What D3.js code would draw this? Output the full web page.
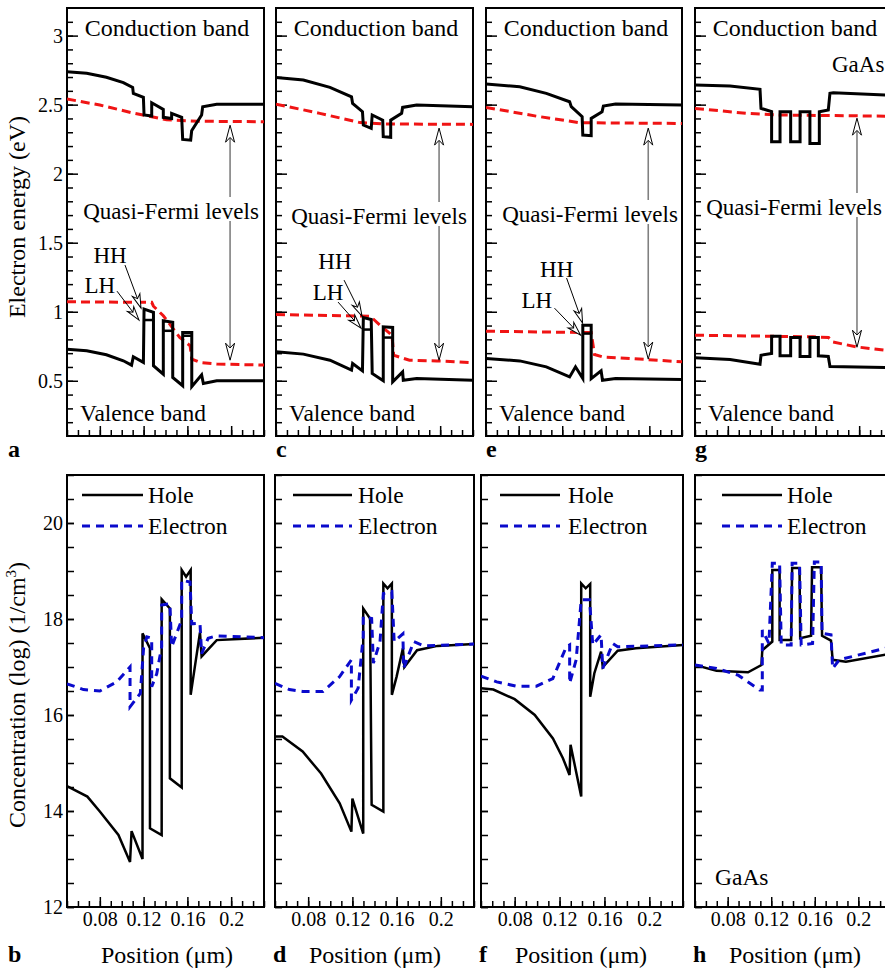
<!DOCTYPE html>
<html>
<head>
<meta charset="utf-8">
<script src="https://cdn.jsdelivr.net/npm/d3@7"></script>
<style>
  body { margin: 0; background: #fff; }
  svg, svg text { font-family: "Liberation Serif", "DejaVu Serif", "Times New Roman", Times, serif; fill: #000; }
</style>
</head>
<body>
<div id="chart"></div>
<script>
// ---- data (position in um, energy in eV, concentration in log10 1/cm3) ----
const POS_MAJOR = [0.08, 0.12, 0.16, 0.2];
const POS_MINOR = d3.range(5, 24).map(i => i / 100);
const E_MAJOR = [0.5, 1, 1.5, 2, 2.5, 3];
const E_MINOR = d3.range(2, 32).map(i => i / 10);
const C_MAJOR = [12, 14, 16, 18, 20];
const C_MINOR = d3.range(24, 43).map(i => i / 2);

// panel a
const cbA = [[0.05,2.739],[0.068,2.727],[0.086,2.698],[0.1015,2.659],[0.110,2.625],[0.1106,2.582],[0.1198,2.553],[0.1204,2.425],[0.1274,2.418],[0.1274,2.514],[0.138,2.466],[0.138,2.408],[0.1456,2.40],[0.1456,2.437],[0.1548,2.408],[0.1557,2.248],[0.163,2.243],[0.1639,2.311],[0.173,2.425],[0.174,2.485],[0.1868,2.502],[0.23,2.502]];
const vbA = [[0.05,0.729],[0.068,0.717],[0.086,0.688],[0.1015,0.645],[0.109,0.613],[0.1106,0.674],[0.1198,0.633],[0.1204,1.019],[0.129,0.995],[0.129,0.609],[0.138,0.548],[0.138,0.935],[0.1466,0.923],[0.1466,0.524],[0.1557,0.464],[0.1557,0.85],[0.164,0.85],[0.164,0.457],[0.173,0.543],[0.1746,0.48],[0.1868,0.5],[0.23,0.5]];
const lhA = [[0.1204,0.129,0.94],[0.138,0.1466,0.862],[0.1557,0.164,0.826]];
const efA = [[0.05,2.541],[0.08,2.497],[0.11,2.44],[0.141,2.39],[0.17,2.38],[0.23,2.376]];
const hfA = [[0.05,1.072],[0.1274,1.068],[0.129,1.04],[0.138,0.971],[0.153,0.814],[0.1625,0.754],[0.164,0.657],[0.1716,0.633],[0.1868,0.621],[0.23,0.614]];
// panel c
const cbC = [[0.05,2.697],[0.075,2.678],[0.0993,2.625],[0.119,2.557],[0.12,2.509],[0.129,2.449],[0.1298,2.352],[0.137,2.328],[0.1379,2.425],[0.1475,2.388],[0.148,2.268],[0.1548,2.263],[0.1548,2.388],[0.1648,2.437],[0.1657,2.48],[0.1785,2.497],[0.23,2.485]];
const vbC = [[0.05,0.71],[0.075,0.693],[0.0993,0.649],[0.119,0.577],[0.12,0.625],[0.129,0.572],[0.1298,0.958],[0.137,0.944],[0.1379,0.553],[0.148,0.5],[0.148,0.891],[0.1566,0.886],[0.1566,0.492],[0.1657,0.564],[0.1663,0.504],[0.1785,0.516],[0.23,0.504]];
const lhC = [[0.1298,0.137,0.871],[0.148,0.1566,0.813]];
const efC = [[0.05,2.504],[0.09,2.437],[0.1268,2.37],[0.148,2.36],[0.23,2.357]];
const hfC = [[0.05,0.98],[0.136,0.968],[0.145,0.903],[0.156,0.83],[0.1575,0.685],[0.172,0.649],[0.197,0.644],[0.23,0.63]];
// panel e
const cbE = [[0.05,2.649],[0.081,2.63],[0.1054,2.582],[0.1268,2.521],[0.1283,2.485],[0.1383,2.413],[0.1389,2.28],[0.1466,2.275],[0.1466,2.4],[0.1566,2.449],[0.1578,2.49],[0.169,2.504],[0.23,2.497]];
const vbE = [[0.05,0.661],[0.081,0.644],[0.1054,0.601],[0.1268,0.528],[0.1322,0.601],[0.1389,0.516],[0.1389,0.902],[0.1466,0.902],[0.1466,0.516],[0.1557,0.572],[0.157,0.504],[0.169,0.516],[0.23,0.509]];
const lhE = [[0.1389,0.1466,0.842]];
const efE = [[0.05,2.48],[0.096,2.417],[0.136,2.369],[0.23,2.364]];
const hfE = [[0.05,0.859],[0.1466,0.849],[0.1496,0.69],[0.157,0.673],[0.197,0.654],[0.23,0.637]];
// panel g
const cbG = [[0.05,2.642],[0.082,2.635],[0.1094,2.611],[0.1103,2.473],[0.12,2.449],[0.12,2.231],[0.1277,2.231],[0.1277,2.449],[0.1374,2.449],[0.1374,2.231],[0.146,2.231],[0.146,2.449],[0.155,2.449],[0.155,2.219],[0.1636,2.219],[0.1636,2.449],[0.1718,2.461],[0.1733,2.582],[0.1764,2.586],[0.23,2.568]];
const vbG = [[0.05,0.666],[0.082,0.654],[0.1094,0.62],[0.1103,0.685],[0.12,0.697],[0.12,0.823],[0.1277,0.823],[0.1277,0.681],[0.1374,0.681],[0.1374,0.813],[0.146,0.813],[0.146,0.676],[0.155,0.676],[0.155,0.813],[0.1627,0.813],[0.1627,0.681],[0.1718,0.676],[0.1733,0.604],[0.23,0.595]];
const lhG = [];
const efG = [[0.05,2.473],[0.097,2.437],[0.1277,2.425],[0.23,2.416]];
const hfG = [[0.05,0.83],[0.158,0.818],[0.172,0.813],[0.176,0.781],[0.198,0.745],[0.23,0.715]];

// HH / LH annotations: label, text x, text y, arrow start x, y, tip x, y
const annoA = [["HH",0.0893,1.352,0.103,1.338,0.1176,1.026],["LH",0.080,1.135,0.0957,1.149,0.1158,0.939]];
const annoC = [["HH",0.1039,1.309,0.1122,1.229,0.1286,0.968],["LH",0.0975,1.084,0.1067,1.07,0.1277,0.881]];
const annoE = [["HH",0.1149,1.251,0.124,1.244,0.1387,0.919],["LH",0.0966,1.026,0.1129,1.026,0.1369,0.83]];
// quasi-Fermi arrow: x, top tip, bottom tip
const qflArrow = [[0.199,2.351,0.649],[0.199,2.33,0.649],[0.199,2.33,0.657],[0.198,2.402,0.743]];

// panel b
const hoB = [[0.05,14.52],[0.0686,14.3],[0.08,13.99],[0.097,13.5],[0.1076,12.94],[0.109,13.58],[0.119,13.0],[0.119,17.7],[0.1258,17.39],[0.1258,13.64],[0.1365,13.5],[0.1365,18.41],[0.144,18.22],[0.144,14.68],[0.1548,14.49],[0.1548,19.02],[0.1588,18.88],[0.163,19.02],[0.163,16.42],[0.1715,17.72],[0.173,17.22],[0.1868,17.56],[0.23,17.61]];
const elB = [[0.05,16.65],[0.065,16.53],[0.08,16.5],[0.0954,16.69],[0.1076,17.0],[0.1076,16.17],[0.117,16.45],[0.12,17.4],[0.123,17.63],[0.1274,17.6],[0.1274,16.59],[0.132,16.86],[0.1365,17.42],[0.1365,18.29],[0.144,18.32],[0.1456,17.42],[0.1548,17.98],[0.1548,18.81],[0.1624,18.77],[0.164,17.9],[0.1715,17.91],[0.173,17.28],[0.179,17.6],[0.1868,17.65],[0.23,17.61]];
// panel d
const hoD = [[0.05,15.55],[0.0567,15.55],[0.075,15.24],[0.0917,14.78],[0.1085,14.16],[0.1191,13.57],[0.12,14.26],[0.1298,13.53],[0.1298,18.22],[0.136,18.01],[0.1374,14.13],[0.148,13.99],[0.148,18.74],[0.1518,18.64],[0.1557,18.74],[0.1557,16.42],[0.16,16.8],[0.1657,17.39],[0.167,17.0],[0.1785,17.35],[0.197,17.44],[0.23,17.48]];
const elD = [[0.05,16.66],[0.063,16.53],[0.075,16.49],[0.0933,16.49],[0.1085,16.8],[0.1191,17.15],[0.1191,16.31],[0.1252,16.56],[0.1298,17.63],[0.1298,18.05],[0.1374,18.01],[0.139,17.08],[0.145,17.53],[0.148,18.53],[0.1557,18.57],[0.1578,17.53],[0.1657,17.69],[0.1663,16.97],[0.1755,17.53],[0.1846,17.44],[0.23,17.48]];
// panel f
const hoF = [[0.05,16.56],[0.061,16.53],[0.08,16.33],[0.0979,16.0],[0.1141,15.51],[0.123,15.1],[0.1289,14.75],[0.1298,15.38],[0.1393,14.3],[0.1393,18.74],[0.1433,18.64],[0.1473,18.73],[0.1473,16.38],[0.151,16.87],[0.157,17.32],[0.1585,17.0],[0.1718,17.34],[0.188,17.39],[0.23,17.46]];
const elF = [[0.05,16.81],[0.064,16.69],[0.0816,16.6],[0.0994,16.6],[0.114,16.76],[0.126,17.42],[0.129,17.46],[0.129,16.66],[0.1348,17.15],[0.1393,18.4],[0.1467,18.4],[0.1496,17.46],[0.157,17.67],[0.1585,16.97],[0.1673,17.49],[0.1718,17.42],[0.23,17.46]];
// panel h
const hoH = [[0.05,17.04],[0.0698,16.92],[0.0987,16.89],[0.111,17.04],[0.1118,17.35],[0.121,17.53],[0.121,19.02],[0.1277,19.02],[0.1277,17.56],[0.1383,17.56],[0.1392,19.06],[0.146,19.06],[0.1466,17.6],[0.1566,17.65],[0.1575,19.08],[0.1658,19.08],[0.1667,17.65],[0.1749,17.55],[0.1764,17.15],[0.1886,17.11],[0.23,17.28]];
const elH = [[0.05,17.04],[0.0698,16.97],[0.0896,16.83],[0.1094,16.52],[0.1118,16.52],[0.1118,17.77],[0.1179,17.49],[0.121,19.16],[0.1277,19.16],[0.1292,17.46],[0.1383,17.46],[0.1392,19.16],[0.146,19.16],[0.1475,17.46],[0.158,17.49],[0.1596,19.19],[0.1658,19.19],[0.1667,17.7],[0.1749,17.67],[0.1764,16.97],[0.1825,17.15],[0.23,17.42]];

// ---- layout ----
const W = 885, H = 968;
const FONT = "'Liberation Serif', 'DejaVu Serif', 'Times New Roman', serif";
const TOP_Y = [8, 436], BOT_Y = [475, 907];
const TOP_X = [[67,264],[276,473],[486,682],[695,892]];
const BOT_X = [[67,264],[275,474],[481,683],[695,891]];
const RED = "#f01414", BLUE = "#0a0acc";

const svg = d3.select("#chart").append("svg")
  .attr("width", W).attr("height", H)
  .attr("font-family", FONT);

const yE = d3.scaleLinear().domain([0.1, 3.2]).range([TOP_Y[1], TOP_Y[0]]);
const yC = d3.scaleLinear().domain([12, 21]).range([BOT_Y[1], BOT_Y[0]]);

let clipId = 0;
// frame, clip and ticks for one panel
function makePanel(xr, yr, yScale, yMinor, yMajor, yMinLen, yMajLen, labelY, labelX) {
  const x = d3.scaleLinear().domain([0.05, 0.23]).range(xr);
  const g = svg.append("g");
  const id = "clip" + (clipId++);
  g.append("clipPath").attr("id", id).append("rect")
    .attr("x", xr[0]).attr("y", yr[0]).attr("width", xr[1] - xr[0]).attr("height", yr[1] - yr[0]);

  // y ticks (inward)
  g.append("g").attr("transform", `translate(${xr[0]},0)`)
    .call(d3.axisLeft(yScale).tickValues(yMinor).tickSize(-yMinLen).tickFormat(""))
    .call(s => s.select(".domain").remove());
  g.append("g").attr("transform", `translate(${xr[0]},0)`)
    .call(d3.axisLeft(yScale).tickValues(yMajor).tickSize(-yMajLen).tickPadding(4)
      .tickFormat(labelY ? d3.format("") : ""))
    .call(s => s.select(".domain").remove());
  // x ticks (inward)
  g.append("g").attr("transform", `translate(0,${yr[1]})`)
    .call(d3.axisBottom(x).tickValues(POS_MINOR).tickSize(-6).tickFormat(""))
    .call(s => s.select(".domain").remove());
  g.append("g").attr("transform", `translate(0,${yr[1]})`)
    .call(d3.axisBottom(x).tickValues(POS_MAJOR).tickSize(-10).tickPadding(5)
      .tickFormat(labelX ? d3.format("") : ""))
    .call(s => s.select(".domain").remove());
  g.selectAll("g").attr("font-family", FONT).attr("font-size", 20);
  g.selectAll(".tick text").attr("fill", "#000");
  g.selectAll(".tick line").attr("stroke", "#000").attr("stroke-width", 1.5);

  g.append("rect")
    .attr("x", xr[0]).attr("y", yr[0]).attr("width", xr[1] - xr[0]).attr("height", yr[1] - yr[0])
    .attr("fill", "none").attr("stroke", "#000").attr("stroke-width", 2);

  const plot = g.append("g").attr("clip-path", `url(#${id})`);
  return { g, plot, x };
}

function drawLine(plot, x, y, data, color, width, dash) {
  plot.append("path").datum(data)
    .attr("d", d3.line().x(d => x(d[0])).y(d => y(d[1])))
    .attr("fill", "none").attr("stroke", color).attr("stroke-width", width)
    .attr("stroke-linejoin", "miter").attr("stroke-dasharray", dash || null);
}

function openHead(g, px, py, ang, len, wid) {
  const pts = [[0, 0], [-len, -wid / 2], [-len * 0.72, 0], [-len, wid / 2]];
  g.append("path").attr("d", "M" + pts.join("L") + "Z")
    .attr("transform", `translate(${px},${py}) rotate(${ang * 180 / Math.PI})`)
    .attr("fill", "#fff").attr("stroke", "#000").attr("stroke-width", 1);
}

function addText(g, str, x, y, size, anchor, weight) {
  return g.append("text").attr("x", x).attr("y", y).attr("font-size", size)
    .attr("font-family", FONT)
    .attr("text-anchor", anchor || "start").attr("font-weight", weight || "normal").text(str);
}

// ---- top row: band diagrams ----
const cbs = [cbA, cbC, cbE, cbG], vbs = [vbA, vbC, vbE, vbG], lhs = [lhA, lhC, lhE, lhG];
const efs = [efA, efC, efE, efG], hfs = [hfA, hfC, hfE, hfG], annos = [annoA, annoC, annoE, []];
const TOP_LETTERS = ["a", "c", "e", "g"], BOT_LETTERS = ["b", "d", "f", "h"];
const QFL_BASE = [219, 224, 222, 215];
const QFL_CX = [104, 103, 104, 99];

TOP_X.forEach((xr, i) => {
  const { g, plot, x } = makePanel(xr, TOP_Y, yE, E_MINOR, E_MAJOR, 6, 11, i === 0, false);
  drawLine(plot, x, yE, efs[i], RED, 3, "9,5");
  drawLine(plot, x, yE, hfs[i], RED, 3, "9,5");
  drawLine(plot, x, yE, cbs[i], "#000", 3);
  drawLine(plot, x, yE, vbs[i], "#000", 3);
  lhs[i].forEach(s => {
    plot.append("line").attr("x1", x(s[0])).attr("x2", x(s[1]))
      .attr("y1", yE(s[2])).attr("y2", yE(s[2]))
      .attr("stroke", "#000").attr("stroke-width", 2.5);
  });

  // quasi-Fermi arrow
  const qa = qflArrow[i], ax = x(qa[0]), t1 = yE(qa[1]), t2 = yE(qa[2]);
  const base = QFL_BASE[i];
  plot.append("line").attr("x1", ax).attr("x2", ax).attr("y1", t1 + 12).attr("y2", base - 22)
    .attr("stroke", "#808080").attr("stroke-width", 1.6);
  plot.append("line").attr("x1", ax).attr("x2", ax).attr("y1", base + 2).attr("y2", t2 - 12)
    .attr("stroke", "#808080").attr("stroke-width", 1.6);
  openHead(plot, ax, t1, -Math.PI / 2, 17, 9);
  openHead(plot, ax, t2, Math.PI / 2, 17, 9);

  const tg = plot.append("g");
  addText(tg, "Conduction band", xr[0] + 100, 36, 24, "middle");
  addText(tg, "Quasi-Fermi levels", xr[0] + QFL_CX[i], base, 23, "middle");
  addText(tg, "Valence band", xr[0] + 76, 421, 23.5, "middle");
  if (i === 3) addText(tg, "GaAs", xr[0] + 137, 72, 23, "start");

  annos[i].forEach(a => {
    addText(tg, a[0], x(a[1]), yE(a[2]), 23, "middle");
    const x1 = x(a[3]), y1 = yE(a[4]), x2 = x(a[5]), y2 = yE(a[6]);
    tg.append("line").attr("x1", x1).attr("y1", y1).attr("x2", x2).attr("y2", y2)
      .attr("stroke", "#000").attr("stroke-width", 1);
    openHead(tg, x2, y2, Math.atan2(y2 - y1, x2 - x1), 14, 8);
  });

  addText(svg, TOP_LETTERS[i], i === 0 ? 8 : xr[0], 457, 24, "start", "bold");
});

// ---- bottom row: carrier concentration ----
const hos = [hoB, hoD, hoF, hoH], els = [elB, elD, elF, elH];
const LEG_X = [[15, 76, 81], [18, 77, 83], [19, 79, 87], [27, 87, 92]];

BOT_X.forEach((xr, i) => {
  const { g, plot, x } = makePanel(xr, BOT_Y, yC, C_MINOR, C_MAJOR, 7, 7, i === 0, true);
  drawLine(plot, x, yC, hos[i], "#000", 2.5);
  drawLine(plot, x, yC, els[i], BLUE, 3, "8,6");

  const lx = LEG_X[i];
  g.append("line").attr("x1", xr[0] + lx[0]).attr("x2", xr[0] + lx[1]).attr("y1", 495).attr("y2", 495)
    .attr("stroke", "#000").attr("stroke-width", 2.5);
  g.append("line").attr("x1", xr[0] + lx[0]).attr("x2", xr[0] + lx[1]).attr("y1", 526).attr("y2", 526)
    .attr("stroke", BLUE).attr("stroke-width", 3).attr("stroke-dasharray", "8,6");
  addText(g, "Hole", xr[0] + lx[2], 503, 23.5);
  addText(g, "Electron", xr[0] + lx[2], 534, 23.5);
  if (i === 3) addText(g, "GaAs", xr[0] + 20, 885, 23.5);

  addText(svg, "Position (\u03bcm)", xr[0] + 100, 963, 24, "middle");
  addText(svg, BOT_LETTERS[i], i === 0 ? 8 : xr[0] - 2, 962, 24, "start", "bold");
});

// axis titles
svg.append("text").attr("transform", "translate(25,217) rotate(-90)")
  .attr("text-anchor", "middle").attr("font-size", 24).text("Electron energy (eV)");
const ct = svg.append("text").attr("transform", "translate(25,695) rotate(-90)")
  .attr("text-anchor", "middle").attr("font-size", 24);
ct.append("tspan").text("Concentration (log) (1/cm");
ct.append("tspan").attr("font-size", 15).attr("dy", -9).text("3");
ct.append("tspan").attr("dy", 9).text(")");
</script>
</body>
</html>
